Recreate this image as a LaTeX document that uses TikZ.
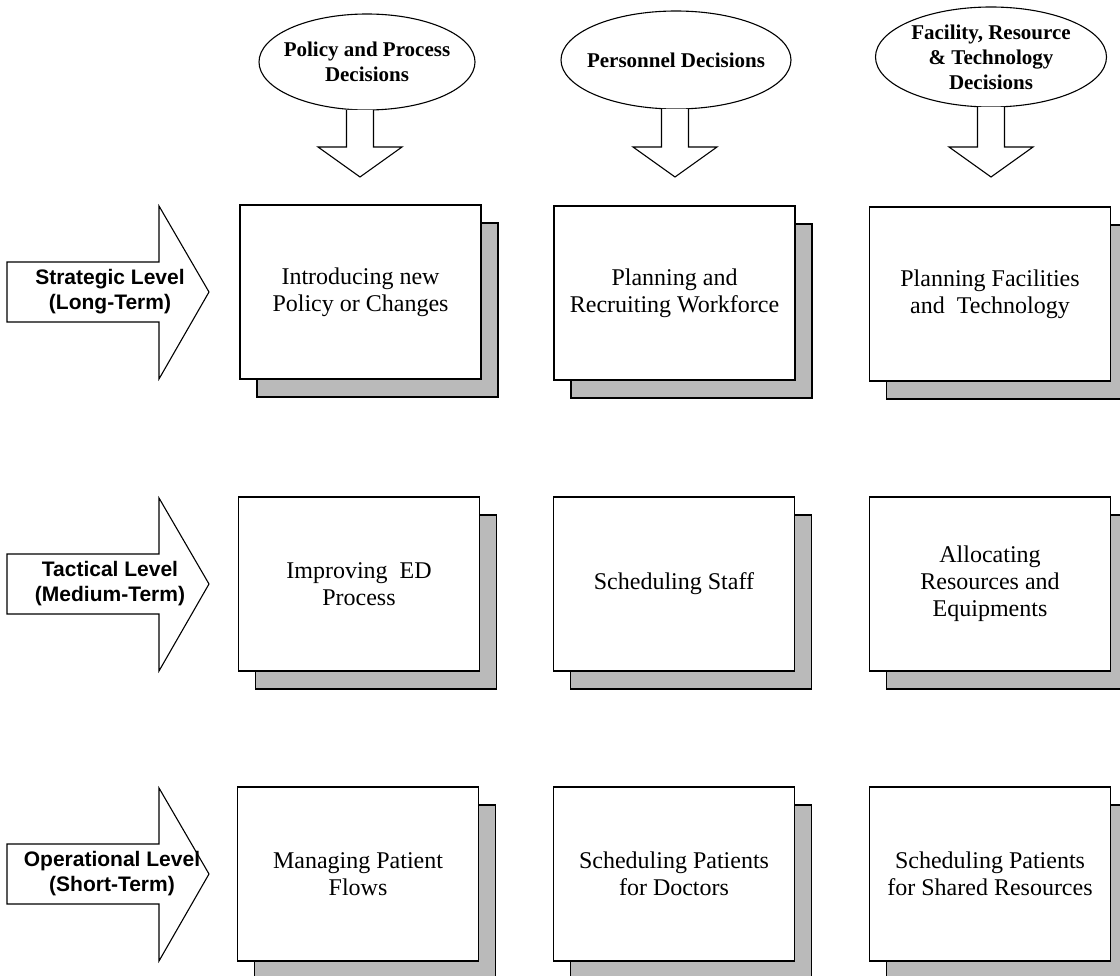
\documentclass[tikz,border=0pt]{standalone}
\usepackage{fontspec}
\setmainfont{Liberation Serif}
\newfontfamily\arialfont{Liberation Sans}
\usetikzlibrary{shadows}
\begin{document}
\begin{tikzpicture}[x=1pt,y=-1pt,
  boxnode/.style={draw=black, line width=1.4pt, fill=white, minimum width=241pt, minimum height=174pt, inner sep=0pt,
     align=center, font=\fontsize{24}{27}\selectfont,
     general shadow={shadow xshift=17pt, shadow yshift=-18pt, fill=black!27, draw=black, line width=1.8pt}},
  blockarrow/.style={draw=black, line width=1.1pt, fill=white, line join=miter},
  decisionshape/.style={draw=black, line width=1.1pt, fill=white},
  decisiontext/.style={align=center, inner sep=0pt, font=\fontsize{21}{25}\selectfont\bfseries},
  leveltext/.style={align=center, inner sep=0pt, font=\arialfont\bfseries\fontsize{21}{25}\selectfont}]
\useasboundingbox (0,0) rectangle (1120,976);
\clip (0,0) rectangle (1120,976);

% decision ellipses
\coordinate (e1c) at (367,62);
\coordinate (e2c) at (676,60);
\coordinate (e3c) at (991,57);
\draw[decisionshape] (e1c) ellipse [x radius=108, y radius=48];
\draw[decisionshape] (e2c) ellipse [x radius=115, y radius=49];
\draw[decisionshape] (e3c) ellipse [x radius=115.5, y radius=50];
\node[decisiontext] (e1) at (e1c) {Policy and Process\\Decisions};
\node[decisiontext] (e2) at (e2c) {Personnel Decisions};
\node[decisiontext] (e3) at (e3c) {Facility, Resource\\\& Technology\\Decisions};

% downward block arrows
\draw[blockarrow] (346.5,110) -- (346.5,147) -- (318,147) -- (360,177) -- (402,147) -- (373.5,147) -- (373.5,110);
\draw[blockarrow] (661.5,109) -- (661.5,147) -- (633,147) -- (675,177) -- (717,147) -- (688.5,147) -- (688.5,109);
\draw[blockarrow] (977.5,107) -- (977.5,147) -- (949,147) -- (991,177) -- (1033,147) -- (1004.5,147) -- (1004.5,107);

% level arrows
\foreach \r in {292, 584, 874}{
  \draw[blockarrow] (7,\r-30) -- (159,\r-30) -- (159,\r-86) -- (209,\r) -- (159,\r+87) -- (159,\r+30) -- (7,\r+30) -- cycle;
}
\node[leveltext] (l1) at (110,292) {Strategic Level\\(Long-Term)};
\node[leveltext] (l2) at (110,584) {Tactical Level\\(Medium-Term)};
\node[leveltext] (l3) at (112,874) {Operational Level\\(Short-Term)};

% decision boxes
\node[boxnode] (b11) at (360.5,292) {Introducing new\\Policy or Changes};
\node[boxnode] (b12) at (674.5,293) {Planning and\\Recruiting Workforce};
\node[boxnode] (b13) at (990,294) {Planning Facilities\\and\ \ Technology};

\node[boxnode] (b21) at (359,584) {Improving\ \ ED\\Process};
\node[boxnode] (b22) at (674,584) {Scheduling Staff};
\node[boxnode] (b23) at (990,584) {Allocating\\Resources and\\Equipments};

\node[boxnode] (b31) at (358,874) {Managing Patient\\Flows};
\node[boxnode] (b32) at (674,874) {Scheduling Patients\\for Doctors};
\node[boxnode] (b33) at (990,874) {Scheduling Patients\\for Shared Resources};
\end{tikzpicture}
\end{document}
